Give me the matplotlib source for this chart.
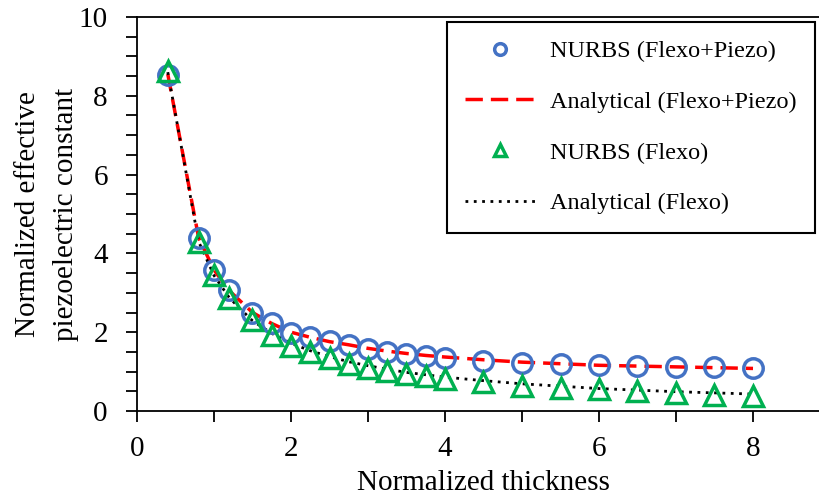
import matplotlib.pyplot as plt
from matplotlib.ticker import MultipleLocator

plt.rcParams['font.family'] = ['Liberation Serif', 'DejaVu Serif']

# normalized thickness
h = [0.4, 0.8, 1.0, 1.2, 1.5, 1.75, 2.0, 2.25, 2.5, 2.75, 3.0, 3.25, 3.5, 3.75, 4.0,
     4.5, 5.0, 5.5, 6.0, 6.5, 7.0, 7.5, 8.0]

# NURBS results
nurbs_fp = [8.52, 4.39, 3.57, 3.08, 2.49, 2.23, 1.99, 1.87, 1.77, 1.68, 1.57, 1.51, 1.44, 1.39, 1.35,
            1.28, 1.23, 1.20, 1.17, 1.15, 1.12, 1.12, 1.10]
nurbs_f = [8.62, 4.29, 3.44, 2.88, 2.30, 1.92, 1.66, 1.50, 1.35, 1.20, 1.10, 1.01, 0.93, 0.88, 0.81,
           0.73, 0.64, 0.59, 0.55, 0.50, 0.45, 0.41, 0.39]

# analytical results
anal_fp = [8.55, 4.40, 3.58, 3.05, 2.50, 2.22, 2.00, 1.87, 1.76, 1.68, 1.59, 1.52, 1.46, 1.41, 1.37,
           1.30, 1.24, 1.20, 1.16, 1.14, 1.12, 1.10, 1.08]
anal_f = [8.60, 4.30, 3.44, 2.87, 2.29, 1.97, 1.72, 1.53, 1.38, 1.25, 1.15, 1.06, 0.98, 0.92, 0.86,
          0.77, 0.69, 0.63, 0.57, 0.53, 0.49, 0.46, 0.43]

fig = plt.figure(figsize=(8.2, 5), dpi=100)
ax = fig.add_axes([137 / 820, 89 / 500, 693 / 820, 394 / 500])

l2, = ax.plot(h, anal_fp, color='#ff0000', ls=(0, (5, 2.3)), lw=2.5, zorder=2,
              label='Analytical (Flexo+Piezo)')
l4, = ax.plot(h, anal_f, color='black', ls=(0, (1, 2)), lw=2, zorder=3,
              label='Analytical (Flexo)')
l1, = ax.plot(h, nurbs_fp, ls='none', marker='o', ms=14, mfc='none', mec='#4472c4', mew=2.5,
              zorder=4, label='NURBS (Flexo+Piezo)')
l3, = ax.plot(h, nurbs_f, ls='none', marker='^', ms=14, mfc='none', mec='#00b050', mew=2.5,
              zorder=5, label='NURBS (Flexo)')

ax.set_xlim(0, 9)
ax.set_ylim(0, 10)
ax.xaxis.set_major_locator(MultipleLocator(2))
ax.xaxis.set_minor_locator(MultipleLocator(1))
ax.yaxis.set_major_locator(MultipleLocator(2))
ax.yaxis.set_minor_locator(MultipleLocator(0.5))
ax.tick_params(which='both', direction='out', length=8, width=1.3, labelsize=21)
ax.tick_params(axis='x', pad=10)
ax.tick_params(axis='y', pad=13)
for s in ax.spines.values():
    s.set_linewidth(1.3)
ax.spines['right'].set_visible(False)

ax.set_xlabel('Normalized thickness', fontsize=21, labelpad=6)
ax.set_ylabel('Normalized effective\npiezoelectric constant', fontsize=21, labelpad=0,
              linespacing=1.6)

leg = fig.legend(handles=[l1, l2, l3, l4], loc='upper left',
                 bbox_to_anchor=(447 / 820, 1 - 22 / 500), fontsize=17.5, markerscale=0.6,
                 handlelength=2.9, handletextpad=0.6, labelspacing=1.18, fancybox=False,
                 framealpha=1, edgecolor='black', borderpad=0.75, borderaxespad=0)
leg.get_frame().set_linewidth(1.5)

fig.savefig('out.png', dpi=100)
